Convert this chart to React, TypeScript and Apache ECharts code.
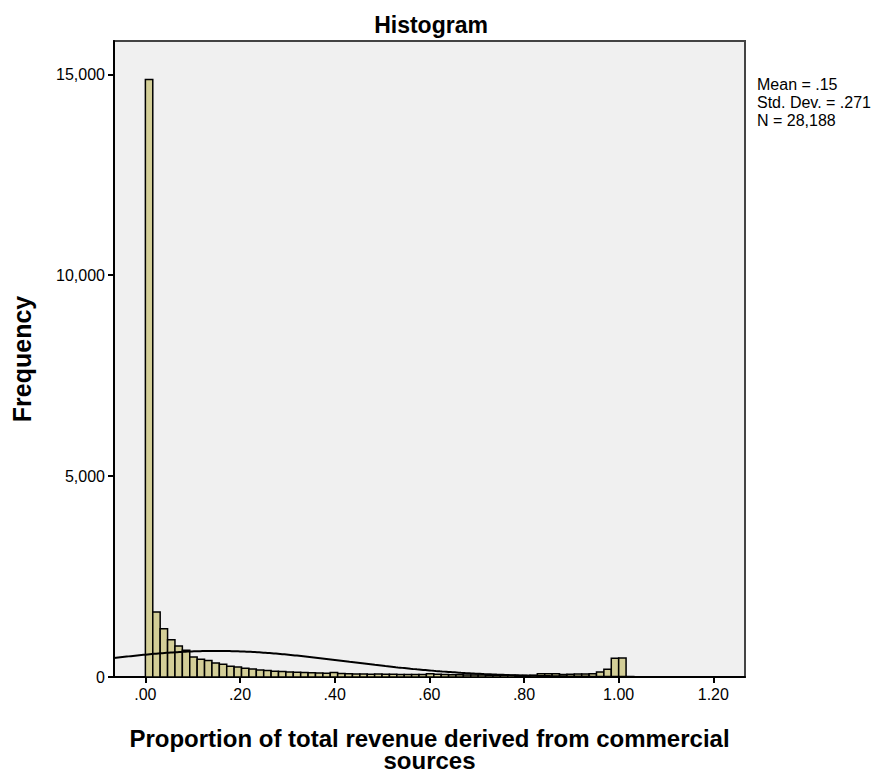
import React, { useEffect, useRef } from "react";
import * as echarts from "echarts";

const BIN_WIDTH = 1 / 64;
const BIN_COUNTS = [
  14870, 1617, 1204, 930, 771, 664, 498, 440, 408, 348, 316, 266, 249, 216, 199, 174,
  159, 142, 134, 124, 117, 109, 105, 100, 95, 110, 85, 80, 75, 72, 70, 75,
  68, 66, 64, 62, 60, 62, 80, 70, 62, 58, 55, 52, 50, 48, 45, 44,
  42, 42, 40, 40, 42, 80, 82, 78, 60, 70, 72, 75, 80, 124, 191, 465,
  470,
];
const X_TICKS = [0, 0.2, 0.4, 0.6, 0.8, 1.0, 1.2];
const Y_TICKS = [0, 5000, 10000, 15000];
const MEAN = 0.15;
const SD = 0.271;
const N = 28188;
const STATS_LINES = ["Mean = .15", "Std. Dev. = .271", "N = 28,188"];
const X_MIN = -0.0663;
const X_MAX = 1.2669;
const Y_MAX = 15830;

const FONT = "'Liberation Sans', Arial, sans-serif";

function fmtX(v: number) {
  const s = v.toFixed(2);
  return s.startsWith("0") ? s.slice(1) : s;
}

export default function App() {
  const ref = useRef<HTMLDivElement>(null);
  useEffect(() => {
    if (!ref.current) return;
    const chart = echarts.init(ref.current, undefined, { renderer: "svg" });
    const bars = BIN_COUNTS.map((c, i) => [i * BIN_WIDTH, (i + 1) * BIN_WIDTH, c]);
    const curve: number[][] = [];
    const steps = 300;
    for (let k = 0; k <= steps; k++) {
      const x = X_MIN + ((X_MAX - X_MIN) * k) / steps;
      const z = (x - MEAN) / SD;
      const y = (N * BIN_WIDTH) / (SD * Math.sqrt(2 * Math.PI)) * Math.exp(-0.5 * z * z);
      curve.push([x, y]);
    }
    chart.setOption({
      animation: false,
      textStyle: { fontFamily: FONT },
      title: {
        text: "Histogram",
        left: 426,
        textAlign: "center",
        top: 8,
        textStyle: { fontFamily: FONT, fontSize: 23, fontWeight: "bold", color: "#000" },
      },
      grid: {
        left: 114,
        right: 138,
        top: 41,
        bottom: 97,
        outerBoundsMode: "none",
        containLabel: false,
        show: true,
        backgroundColor: "#F0F0F0",
        borderColor: "#444",
        borderWidth: 2,
      },
      xAxis: {
        type: "value",
        min: X_MIN,
        max: X_MAX,
        splitLine: { show: false },
        axisLine: { show: true, onZero: false, lineStyle: { color: "#000", width: 2 } },
        axisTick: { show: true, customValues: X_TICKS, length: 6, lineStyle: { color: "#000", width: 2 } },
        axisLabel: {
          customValues: X_TICKS,
          formatter: (v: number) => fmtX(v),
          color: "#000",
          fontSize: 16,
          fontFamily: FONT,
          margin: 9,
        },
        name: "Proportion of total revenue derived from commercial\nsources",
        nameLocation: "middle",
        nameGap: 50,
        nameTextStyle: { fontFamily: FONT, fontSize: 24, fontWeight: "bold", color: "#000", lineHeight: 22 },
      },
      yAxis: {
        type: "value",
        min: 0,
        max: Y_MAX,
        splitLine: { show: false },
        axisLine: { show: true, onZero: false, lineStyle: { color: "#000", width: 2 } },
        axisTick: { show: true, customValues: Y_TICKS, length: 6, lineStyle: { color: "#000", width: 2 } },
        axisLabel: {
          customValues: Y_TICKS,
          formatter: (v: number) => v.toLocaleString("en-US"),
          color: "#000",
          fontSize: 16,
          fontFamily: FONT,
          margin: 9,
        },
        name: "Frequency",
        nameLocation: "middle",
        nameGap: 80,
        nameTextStyle: { fontFamily: FONT, fontSize: 25, fontWeight: "bold", color: "#000" },
      },
      graphic: [
        {
          type: "text",
          left: 757,
          top: 75,
          style: { text: STATS_LINES.join("\n"), fontFamily: FONT, fontSize: 16, lineHeight: 18, fill: "#000" },
        },
      ],
      series: [
        {
          type: "custom",
          data: bars,
          encode: { x: [0, 1], y: 2 },
          renderItem: (params: any, api: any) => {
            const p0 = api.coord([api.value(0), api.value(2)]);
            const p1 = api.coord([api.value(1), 0]);
            return {
              type: "rect",
              shape: { x: p0[0], y: p0[1], width: p1[0] - p0[0], height: p1[1] - p0[1] },
              style: { fill: "#D3CE97", stroke: "#000", lineWidth: 1.5 },
            };
          },
          z: 2,
        },
        {
          type: "line",
          data: curve,
          showSymbol: false,
          smooth: false,
          lineStyle: { color: "#000", width: 2 },
          z: 3,
        },
      ],
    });
    return () => chart.dispose();
  }, []);
  return (
    <div
      ref={ref}
      style={{ position: "absolute", left: 0, top: 0, width: 883, height: 774 }}
    />
  );
}
